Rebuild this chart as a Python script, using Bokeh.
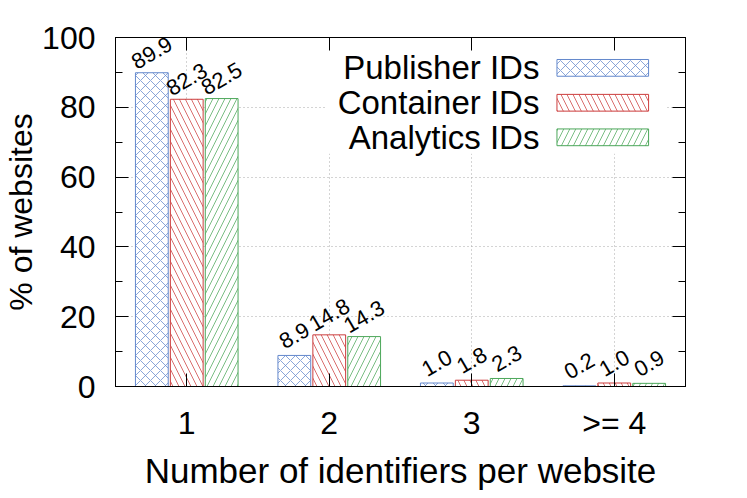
import math
from bokeh.plotting import figure
from bokeh.models import (ColumnDataSource, LinearAxis, FixedTicker,
                          SingleIntervalTicker, Label, CustomJSTickFormatter)
from bokeh.transform import dodge
from bokeh.core.properties import value
from bokeh.embed import file_html
from bokeh.resources import INLINE

# ---------------- data ----------------
positions = [1, 2, 3, 4]
categories = ["1", "2", "3", ">= 4"]
publisher = [89.9, 8.9, 1.0, 0.2]
container = [82.3, 14.8, 1.8, 1.0]
analytics = [82.5, 14.3, 2.3, 0.9]
series_names = ["Publisher IDs", "Container IDs", "Analytics IDs"]
y_tick_step = 20

FONT = "Liberation Sans"
colors = ["#6488cc", "#cc3d3d", "#4ca75a"]
hatches = ["x", "\\", "/"]
hatch_scales = [10, 12, 12]
offsets = [-0.245, 0.0, 0.245]
keys = ["pub", "con", "ana"]

source = ColumnDataSource(dict(
    x=positions,
    pub=publisher, con=container, ana=analytics,
    pub_lbl=["%.1f" % v for v in publisher],
    con_lbl=["%.1f" % v for v in container],
    ana_lbl=["%.1f" % v for v in analytics],
))

p = figure(width=735, height=492, x_range=(0.5, 4.5), y_range=(0, 100),
           output_backend="svg", toolbar_location=None,
           min_border_left=113, min_border_right=50,
           min_border_top=37, min_border_bottom=104)
p.background_fill_color = "white"
p.border_fill_color = "white"
p.outline_line_color = "black"
p.outline_line_width = 1

# grids
p.xgrid.ticker = FixedTicker(ticks=positions, minor_ticks=[])
p.ygrid.ticker = SingleIntervalTicker(interval=y_tick_step, num_minor_ticks=2)
for g in (p.xgrid[0], p.ygrid[0]):
    g.grid_line_color = "#a8a8a8"
    g.grid_line_dash = "1 3"
    g.grid_line_width = 1

overrides = {pos: lab for pos, lab in zip(positions, categories)}
blank = CustomJSTickFormatter(code="return ''")

def style_x(ax, show):
    ax.ticker = FixedTicker(ticks=positions, minor_ticks=[])
    ax.major_tick_in = 13
    ax.major_tick_out = 0
    ax.minor_tick_in = 0
    ax.minor_tick_out = 0
    ax.axis_line_color = "black"
    ax.major_tick_line_color = "black"
    ax.major_label_text_font = FONT
    ax.major_label_text_font_size = "32px"
    ax.major_label_text_color = "black"
    if show:
        ax.major_label_overrides = overrides
        ax.major_label_standoff = 18
    else:
        ax.formatter = blank
        ax.major_label_standoff = 0

def style_y(ax, show):
    ax.ticker = SingleIntervalTicker(interval=y_tick_step, num_minor_ticks=2)
    ax.major_tick_in = 13
    ax.major_tick_out = 0
    ax.minor_tick_in = 7
    ax.minor_tick_out = 0
    ax.axis_line_color = "black"
    ax.major_tick_line_color = "black"
    ax.minor_tick_line_color = "black"
    ax.major_label_text_font = FONT
    ax.major_label_text_font_size = "32px"
    ax.major_label_text_color = "black"
    if show:
        ax.major_label_standoff = 20
    else:
        ax.formatter = blank
        ax.major_label_standoff = 0

xb = p.xaxis[0]
yl = p.yaxis[0]
style_x(xb, True)
style_y(yl, True)
xb.axis_label = "Number of identifiers per website"
xb.axis_label_text_font = FONT
xb.axis_label_text_font_size = "35px"
xb.axis_label_text_font_style = "normal"
xb.axis_label_text_color = "black"
xb.axis_label_standoff = 7
yl.axis_label = "% of websites"
yl.axis_label_text_font = FONT
yl.axis_label_text_font_size = "32px"
yl.axis_label_text_font_style = "normal"
yl.axis_label_text_color = "black"
yl.axis_label_standoff = 0

xt = LinearAxis()
style_x(xt, False)
p.add_layout(xt, "above")
yr = LinearAxis()
style_y(yr, False)
p.add_layout(yr, "right")

# ---------------- bars ----------------
for k, c, h, hs, off in zip(keys, colors, hatches, hatch_scales, offsets):
    p.vbar(x=dodge("x", off), top=k, width=0.23, bottom=0, source=source,
           fill_color="white", line_color=c, line_width=1,
           hatch_pattern=h, hatch_color=c, hatch_alpha=0.75,
           hatch_weight=1, hatch_scale=hs)
    p.text(x=dodge("x", off), y=k, text=k + "_lbl", source=source,
           angle=math.pi / 6, text_align="center", text_baseline="middle",
           y_offset=-20, text_font=value(FONT), text_font_size="22px",
           text_color="black")

# ---------------- legend (text left of swatch, opaque key) ----------------
p.quad(left=[1.98], right=[4.36], bottom=[66.7], top=[97.2],
       fill_color="white", line_color=None)
row_y = [91.3, 81.3, 71.4]
for name, c, h, hs, yy in zip(series_names, colors, hatches, hatch_scales, row_y):
    p.quad(left=[3.598], right=[4.241], bottom=[yy - 2.4], top=[yy + 2.4],
           fill_color="white", line_color=c, line_width=1,
           hatch_pattern=h, hatch_color=c, hatch_alpha=0.75,
           hatch_weight=1, hatch_scale=hs)
    p.add_layout(Label(x=3.475, y=yy, text=name, text_align="right",
                       text_baseline="middle", text_font=FONT,
                       text_font_size="33px", text_color="black"))

open("out.html", "w").write(file_html(p, INLINE))
